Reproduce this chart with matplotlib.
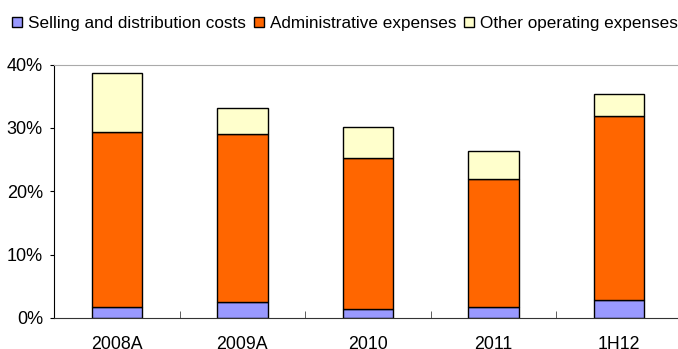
import matplotlib.pyplot as plt
import numpy as np

plt.rcParams['font.family'] = ['Liberation Sans', 'DejaVu Sans']

categories = ["2008A", "2009A", "2010", "2011", "1H12"]
selling = [1.7, 2.5, 1.4, 1.7, 2.8]
admin = [27.7, 26.5, 23.8, 20.2, 29.1]
other = [9.2, 4.2, 4.9, 4.4, 3.4]

labels = ["Selling and distribution costs", "Administrative expenses", "Other operating expenses"]
colors = ["#9999ff", "#ff6600", "#ffffcc"]

fig = plt.figure(figsize=(6.78, 3.49), dpi=100)
W, H = 678, 349
ax = fig.add_axes([54 / W, (H - 318) / H, (682 - 54) / W, (318 - 64.5) / H])

x = np.arange(len(categories))
bottom = np.zeros(len(categories))
handles = []
for vals, col, lab in zip([selling, admin, other], colors, labels):
    b = ax.bar(x, vals, 0.4, bottom=bottom, color=col, edgecolor="black", linewidth=1.0, label=lab)
    handles.append(b)
    bottom += np.array(vals)

ax.set_xlim(-0.5, len(categories) - 0.5)
ax.set_ylim(0, 40)
ax.set_yticks([0, 10, 20, 30, 40])
ax.set_yticklabels([f"{v}%" for v in [0, 10, 20, 30, 40]], fontsize=13)
ax.set_xticks(x)
ax.set_xticklabels(categories, fontsize=12.8)
ax.tick_params(axis="x", length=0, pad=13)
ax.set_xticks(np.arange(0.5, len(categories) - 0.5), minor=True)
ax.tick_params(axis="x", which="minor", direction="in", length=5, color="#444444")
ax.tick_params(axis="y", direction="out", length=3, pad=5)

ax.spines["right"].set_visible(False)
ax.spines["top"].set_color("#aaaaaa")
ax.spines["left"].set_color("black")
ax.spines["bottom"].set_color("#333333")

fig.legend(handles=handles, labels=labels, loc="upper left", bbox_to_anchor=(0.0, 1 - 4 / H),
           ncol=3, frameon=False, fontsize=12.3, handlelength=0.6, handleheight=0.6,
           handletextpad=0.35, columnspacing=0.45, borderaxespad=0.3)

fig.savefig("out.png", dpi=100)
